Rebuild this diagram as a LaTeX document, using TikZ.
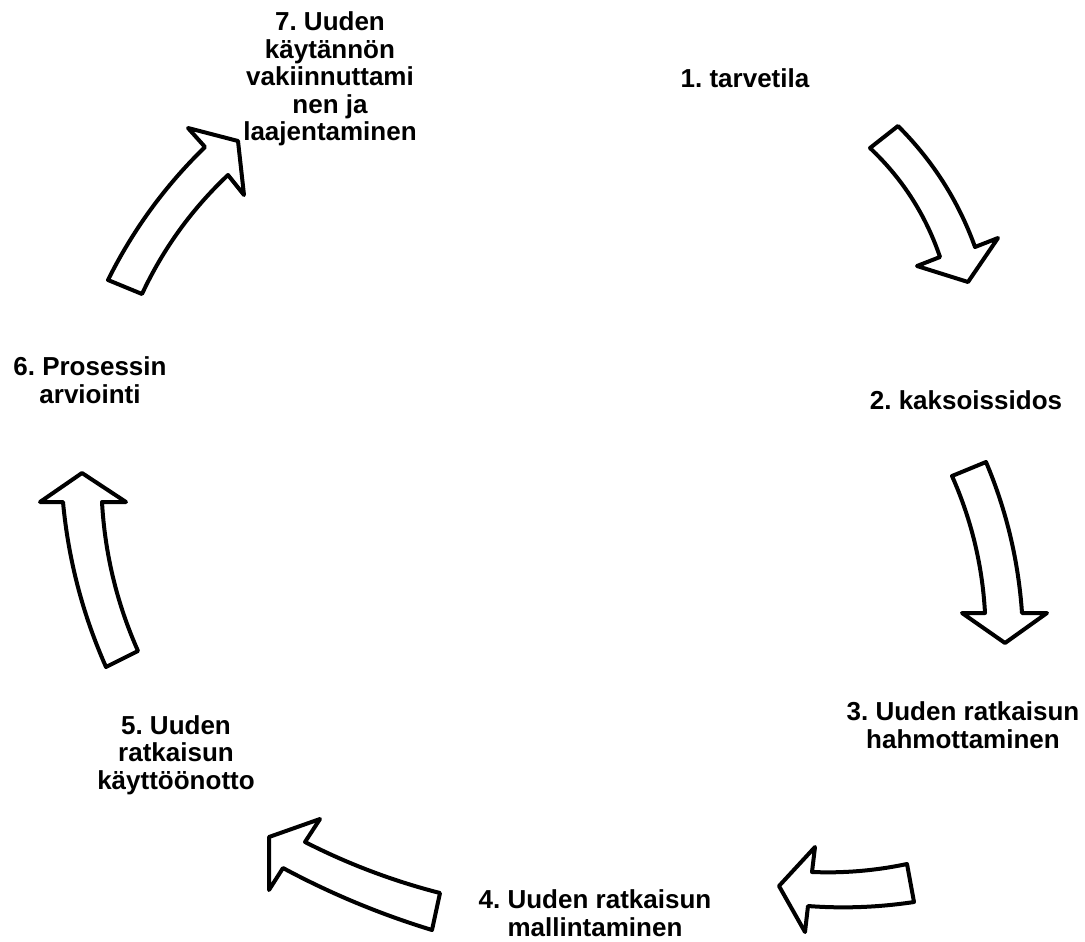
\documentclass[tikz,border=0pt]{standalone}
\usepackage{fontspec}
\setmainfont{Liberation Sans}
\frenchspacing

\begin{document}
\begin{tikzpicture}[
    x=0.75pt, y=-0.75pt,
    every node/.style={font=\fontsize{19.5}{20.6}\selectfont\bfseries, align=center, inner sep=0pt},
    block/.style={draw, line width=3pt, line join=round, fill=white}
]
\useasboundingbox (0,0) rectangle (1085,942);

% Stage labels
\node (S1) at (745,78) {1. tarvetila};
\node (S2) at (966,400) {2. kaksoissidos};
\node (S3) at (963,725) {3. Uuden ratkaisun\\hahmottaminen};
\node (S4) at (595,913) {4. Uuden ratkaisun\\mallintaminen};
\node (S5) at (176,755) {5. Uuden\\ratkaisun\\käyttöönotto};
\node (S6) at (90,380) {6. Prosessin\\arviointi};
\node (S7) at (330,79) {7. Uuden\\käytännön\\vakiinnuttami\\nen ja\\laajentaminen};

% Curved block arrows
\draw[block] (870,148) -- (898,126) .. controls (932.7,160.6) and (958.4,200.9) .. (975,247)
    -- (998,238) -- (968,282) -- (917,266) -- (940,257)
    .. controls (925.7,214.9) and (902.4,178.6) .. (870,148) -- cycle;
\draw[block] (952,476) -- (986,462) .. controls (1006.4,510.3) and (1018.4,560.7) .. (1022,613)
    -- (1047,613) -- (1005,643) -- (962,613) -- (985,613)
    .. controls (982.4,565.3) and (971.4,519.7) .. (952,476) -- cycle;
\draw[block] (914,902) -- (907,864) .. controls (875.3,870.7) and (843.7,873.3) .. (812,872)
    -- (815,847) -- (779,886) -- (805,932) -- (808,906)
    .. controls (843.3,908.7) and (878.7,907.3) .. (914,902) -- cycle;
\draw[block] (432,930) -- (440,893) .. controls (393.1,881) and (348.1,864) .. (305,842)
    -- (320,819) -- (269,837) -- (269,890) -- (283,868)
    .. controls (330.8,893.7) and (380.5,914.3) .. (432,930) -- cycle;
\draw[block] (106,667) -- (138,651) .. controls (116.9,603.5) and (104.9,553.9) .. (102,502)
    -- (126,502) -- (82,473) -- (40,502) -- (63,502)
    .. controls (68.3,559.2) and (82.6,614.2) .. (106,667) -- cycle;
\draw[block] (108,280) -- (142,294) .. controls (163.1,248.8) and (191.8,209.1) .. (228,175)
    -- (244,195) -- (238,141) -- (188,128) -- (205,147)
    .. controls (165.1,185.8) and (132.8,230.1) .. (108,280) -- cycle;

\end{tikzpicture}
\end{document}
